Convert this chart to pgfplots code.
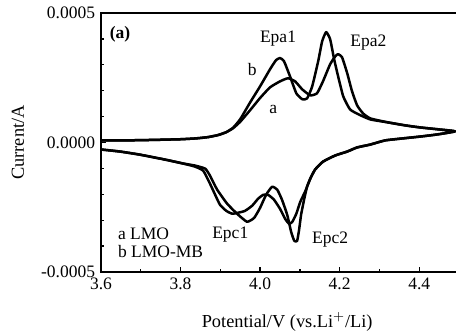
\documentclass[border=0pt]{standalone}
\usepackage{fontspec}
\setmainfont{Liberation Serif}
\usepackage{pgfplots}
\pgfplotsset{compat=1.18}
\begin{document}
\begin{tikzpicture}
\begin{axis}[
  scale only axis, width=214.8pt, height=155.4pt,
  xmin=3.6, xmax=4.5, ymin=-0.0005, ymax=0.0005,
  xtick={3.6,3.8,4.0,4.2,4.4}, xticklabels={3.6,3.8,4.0,4.2,4.4},
  ytick={-0.0005,0,0.0005}, yticklabels={-0.0005,0.0000,0.0005},
  scaled y ticks=false, scaled x ticks=false,
  minor x tick num=1, minor y tick num=4,
  tick align=inside, xtick pos=left, ytick pos=left,
  major tick length=3pt, minor tick length=1.8pt,
  axis line style={line width=1.1pt},
  every tick/.style={line width=0.8pt, black},
  tick label style={font=\fontsize{10.5}{12}\selectfont},
  xlabel={Potential/V (vs.Li$^{+}$/Li)}, ylabel={Current/A},
  label style={font=\fontsize{11}{13}\selectfont},
  xlabel style={at={([yshift=-30pt]rel axis cs:0.52,0)}, anchor=center},
  ylabel style={at={([xshift=-49.8pt]rel axis cs:0,0.5)}, anchor=center},
  every axis plot/.append style={black, line width=1.5pt, line join=round},
  clip=false,
]
% curve a (LMO)
\addplot[smooth, tension=0.3] coordinates {
(3.600,0.0000078) (3.648,0.0000078) (3.723,0.0000097) (3.799,0.0000125)
(3.840,0.000016) (3.870,0.000021) (3.895,0.000029) (3.915,0.00004)
(3.932,0.000055) (3.950,0.000080) (3.975,0.000125) (4.000,0.000172)
(4.025,0.000213) (4.050,0.000236) (4.070,0.000248) (4.088,0.000236)
(4.106,0.000205) (4.126,0.000182) (4.143,0.00019) (4.158,0.000236)
(4.176,0.000302) (4.189,0.000333) (4.196,0.000341) (4.206,0.000329)
(4.219,0.000267) (4.231,0.000198) (4.244,0.000143) (4.259,0.000112)
(4.277,0.000093) (4.320,0.000078) (4.365,0.000066) (4.403,0.000058)
(4.453,0.00005) (4.490,0.000043)
(4.445,0.000031) (4.403,0.000023) (4.360,0.000016) (4.314,0.000008)
(4.277,-0.000008) (4.244,-0.000019) (4.219,-0.000035) (4.189,-0.00005)
(4.158,-0.000074) (4.138,-0.000105) (4.126,-0.00014) (4.113,-0.00019)
(4.101,-0.000229) (4.091,-0.000275) (4.081,-0.000306) (4.073,-0.000314)
(4.063,-0.000295) (4.050,-0.000256) (4.035,-0.000221) (4.020,-0.000202)
(4.008,-0.000202) (3.995,-0.000217) (3.980,-0.000244) (3.962,-0.000264)
(3.945,-0.000271) (3.930,-0.000275) (3.915,-0.000264) (3.899,-0.00024)
(3.887,-0.000202) (3.874,-0.000159) (3.857,-0.000109) (3.836,-0.000093)
(3.806,-0.000081) (3.761,-0.000066) (3.698,-0.000047) (3.648,-0.000035)
(3.600,-0.000027)
};
% curve b (LMO-MB)
\addplot[smooth, tension=0.3] coordinates {
(3.600,0.0000078) (3.648,0.0000078) (3.723,0.0000097) (3.799,0.0000125)
(3.840,0.000016) (3.870,0.000021) (3.895,0.000029) (3.915,0.00004)
(3.932,0.000057) (3.950,0.000090) (3.975,0.000155) (4.000,0.000217)
(4.025,0.000283) (4.040,0.000318) (4.050,0.000326) (4.060,0.000314)
(4.075,0.000256) (4.091,0.00019) (4.106,0.000167) (4.118,0.00017)
(4.131,0.000217) (4.146,0.000314) (4.156,0.000391) (4.166,0.000426)
(4.176,0.000399) (4.186,0.000322) (4.196,0.000256) (4.209,0.000178)
(4.226,0.000128) (4.247,0.000109) (4.277,0.000089) (4.320,0.000078)
(4.365,0.000066) (4.403,0.000058) (4.453,0.00005) (4.490,0.000043)
(4.445,0.000031) (4.403,0.000023) (4.360,0.000016) (4.314,0.000008)
(4.277,-0.000008) (4.244,-0.000019) (4.219,-0.000035) (4.189,-0.00005)
(4.158,-0.000074) (4.138,-0.000105) (4.126,-0.00014) (4.118,-0.000171)
(4.111,-0.000217) (4.103,-0.000279) (4.098,-0.000337) (4.093,-0.00038)
(4.086,-0.00038) (4.078,-0.000345) (4.068,-0.000279) (4.055,-0.000221)
(4.043,-0.000182) (4.030,-0.000171) (4.015,-0.000202) (4.000,-0.000252)
(3.985,-0.000291) (3.967,-0.000306) (3.942,-0.000275) (3.917,-0.000236)
(3.892,-0.000182) (3.874,-0.000128) (3.862,-0.000101) (3.836,-0.000089)
(3.806,-0.000081) (3.761,-0.000066) (3.698,-0.000047) (3.648,-0.000035)
(3.600,-0.000027)
};
\begin{scope}[every node/.style={font=\fontsize{10.5}{12}\selectfont}]
\node at (axis cs:3.648,0.000419) {\textbf{(a)}};
\node at (axis cs:4.045,0.000403) {Epa1};
\node at (axis cs:4.272,0.000384) {Epa2};
\node at (axis cs:3.980,0.000283) {b};
\node at (axis cs:4.033,0.000128) {a};
\node at (axis cs:3.925,-0.000357) {Epc1};
\node at (axis cs:4.176,-0.000376) {Epc2};
\node[anchor=west] at (axis cs:3.628,-0.000353) {a LMO};
\node[anchor=west] at (axis cs:3.628,-0.000422) {b LMO-MB};
\end{scope}
\end{axis}
\pgfresetboundingbox
\useasboundingbox ([xshift=-60.6pt,yshift=-35.4pt]current axis.south west) rectangle ([xshift=-1.8pt,yshift=7.8pt]current axis.north east);
\end{tikzpicture}
\end{document}
